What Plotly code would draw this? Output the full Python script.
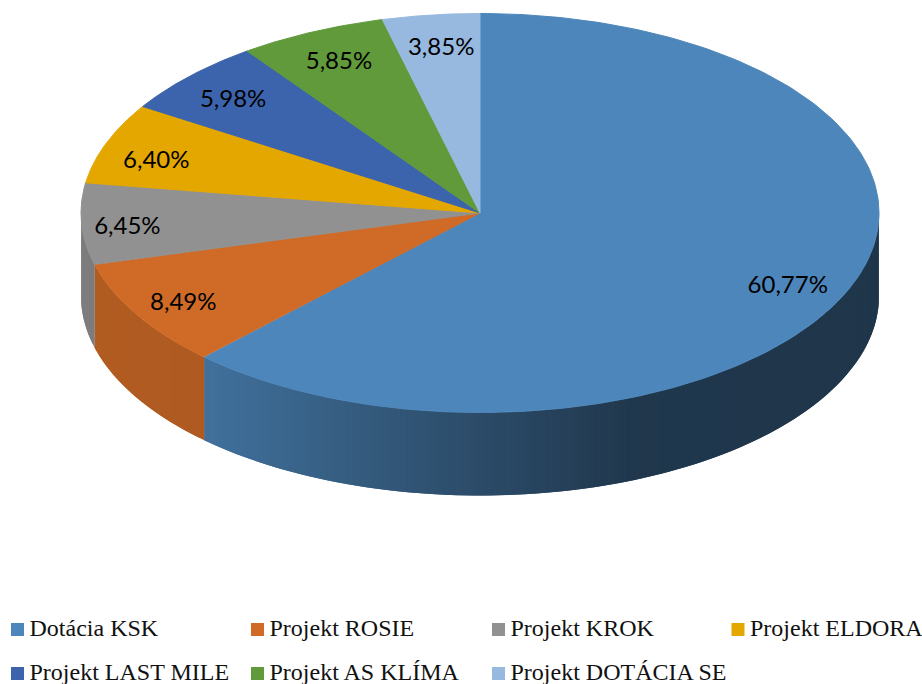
import numpy as np
import plotly.graph_objects as go

categories = ["Dotácia KSK", "Projekt ROSIE", "Projekt KROK", "Projekt ELDORA",
              "Projekt LAST MILE", "Projekt AS KLÍMA", "Projekt DOTÁCIA SE"]
values = [60.77, 8.49, 6.45, 6.40, 5.98, 5.85, 3.85]
value_labels = ["60,77%", "8,49%", "6,45%", "6,40%", "5,98%", "5,85%", "3,85%"]
colors = ["#4D86BA", "#CF6B27", "#919191", "#E4A700", "#3C64AC", "#619A3B", "#97B9E0"]

W, H = 922, 684
CX, CY, RX, RY, DEPTH = 480, 213, 399, 199.5, 83
LABEL_R = 0.85
label_nudge = [(-7, 11), (-5, 5), (-14, 6), (-6, 8), (0, 4), (2, 4), (3, 4)]
legend_cols = [17.5, 257.5, 498.5, 738]
legend_rows = [629.5, 673.5]
LEGEND_TEXT_GAP = 12

v = np.array(values)
edges = np.concatenate([[0], np.cumsum(v) / v.sum() * 2 * np.pi])


def px(t):
    return CX + RX * np.sin(t)


def py(t):
    return CY - RY * np.cos(t)


def shade(hex_color, x):
    f = np.interp(x, [81, 205, 340, 480, 640, 880], [0.86, 0.84, 0.70, 0.56, 0.41, 0.40])
    r, g, b = (int(hex_color[i:i + 2], 16) for i in (1, 3, 5))
    return f"rgb({r * f:.0f},{g * f:.0f},{b * f:.0f})"


fig = go.Figure()

# side wall: visible only on the front half of the disc
for i, c in enumerate(colors):
    a = max(edges[i], np.pi / 2)
    b = min(edges[i + 1], 3 * np.pi / 2)
    if b <= a:
        continue
    n = max(1, int((b - a) / np.radians(1.0)))
    ts = np.linspace(a, b, n + 1)
    for t0, t1 in zip(ts[:-1], ts[1:]):
        t2 = min(b, t1 + (t1 - t0))  # overlap the next strip so no seams show
        arc = np.linspace(t0, t2, 4)
        xs = np.concatenate([px(arc), px(arc[::-1]), [px(t0)]])
        ys = np.concatenate([py(arc), py(arc[::-1]) + DEPTH, [py(t0)]])
        col = shade(c, (px(t0) + px(t1)) / 2)
        fig.add_trace(go.Scatter(x=xs, y=ys, mode="lines", fill="toself", fillcolor=col,
                                 line=dict(width=0), hoverinfo="skip", showlegend=False))

# top face
for i, c in enumerate(colors):
    ts = np.linspace(edges[i], edges[i + 1], 200)
    xs = np.concatenate([[CX], px(ts), [CX]])
    ys = np.concatenate([[CY], py(ts), [CY]])
    fig.add_trace(go.Scatter(x=xs, y=ys, mode="lines", fill="toself", fillcolor=c,
                             line=dict(color=c, width=1), name=categories[i],
                             hoverinfo="name", showlegend=False))

# value labels
mids = (edges[:-1] + edges[1:]) / 2
lx = CX + LABEL_R * RX * np.sin(mids) + np.array([n[0] for n in label_nudge])
ly = CY - LABEL_R * RY * np.cos(mids) + np.array([n[1] for n in label_nudge])
fig.add_trace(go.Scatter(x=lx, y=ly, mode="text", text=value_labels, textposition="middle center",
                         textfont=dict(family="Lato", size=24, color="#000000"),
                         hoverinfo="skip", showlegend=False))

# legend keyed to the slices: a swatch and a real text label in each grid cell
for i, c in enumerate(colors):
    cell_x = legend_cols[i % 4]
    cell_y = legend_rows[i // 4]
    fig.add_trace(go.Scatter(x=[cell_x], y=[cell_y], mode="markers",
                             marker=dict(symbol="square", size=13, color=c),
                             name=categories[i], hoverinfo="name", showlegend=False))
    fig.add_trace(go.Scatter(x=[cell_x + LEGEND_TEXT_GAP], y=[cell_y], mode="text",
                             text=[categories[i]], textposition="middle right",
                             textfont=dict(family="Liberation Serif", size=24, color="#111111"),
                             cliponaxis=False, hoverinfo="skip", showlegend=False))

fig.update_layout(
    width=W, height=H, autosize=False,
    margin=dict(l=0, r=0, t=0, b=0, autoexpand=False),
    paper_bgcolor="white", plot_bgcolor="white",
    xaxis=dict(range=[0, W], visible=False, fixedrange=True),
    yaxis=dict(range=[H, 0], visible=False, fixedrange=True),
)

fig.write_html("out.html", config={"displayModeBar": False},
               post_script="document.body.style.margin='0';document.documentElement.style.overflow='hidden';")
